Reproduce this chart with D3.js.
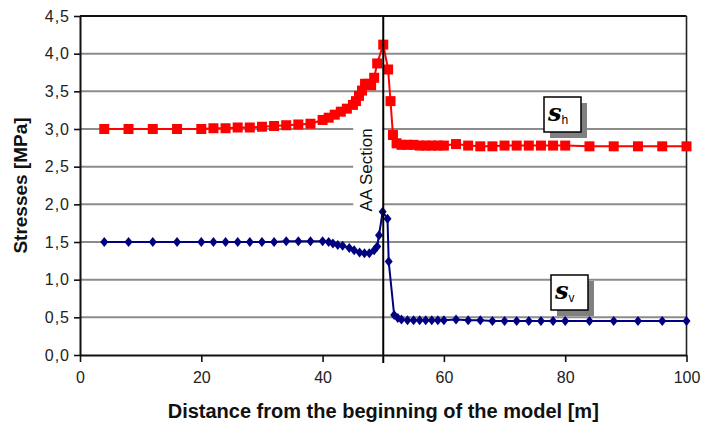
<!DOCTYPE html>
<html>
<head>
<meta charset="utf-8">
<script src="https://cdn.jsdelivr.net/npm/d3@7"></script>
<style>
  html, body { margin: 0; padding: 0; background: #fff; }
  svg { display: block; }
</style>
</head>
<body>
<svg id="chart" width="703" height="423"></svg>
<script>
// Horizontal stress (sigma h) along the model, MPa
const shDistance = [4, 8, 12, 16, 20, 22, 24, 26, 28, 30, 32, 34, 36, 38, 40, 41, 42, 43, 44, 45, 45.5, 46, 46.5, 47, 47.5, 48, 48.5, 49, 50, 50.8, 51.2, 51.6, 52.2, 53, 54, 55, 56, 57, 58, 59, 60, 62, 64, 66, 68, 70, 72, 74, 76, 78, 80, 84, 88, 92, 96, 100];
const shStress = [3.0, 3.0, 3.0, 3.0, 3.0, 3.01, 3.01, 3.02, 3.02, 3.03, 3.04, 3.05, 3.06, 3.07, 3.12, 3.15, 3.19, 3.23, 3.27, 3.32, 3.37, 3.44, 3.51, 3.60, 3.60, 3.58, 3.68, 3.87, 4.12, 3.79, 3.37, 2.92, 2.81, 2.79, 2.79, 2.79, 2.78, 2.78, 2.78, 2.78, 2.78, 2.80, 2.78, 2.77, 2.77, 2.78, 2.78, 2.78, 2.78, 2.78, 2.78, 2.77, 2.77, 2.77, 2.77, 2.77];

// Vertical stress (sigma v) along the model, MPa
const svDistance = [4, 8, 12, 16, 20, 22, 24, 26, 28, 30, 32, 34, 36, 38, 40, 41, 41.7, 42.5, 43.3, 44.4, 45.2, 46.1, 46.9, 47.7, 48.5, 49, 49.3, 49.9, 50.7, 50.9, 51.8, 52.4, 53, 54, 55, 56, 57, 58, 59, 60, 62, 64, 66, 68, 70, 72, 74, 76, 78, 80, 84, 88, 92, 96, 100];
const svStress = [1.50, 1.50, 1.50, 1.50, 1.50, 1.50, 1.50, 1.50, 1.50, 1.50, 1.50, 1.51, 1.51, 1.51, 1.51, 1.50, 1.48, 1.46, 1.45, 1.42, 1.39, 1.36, 1.35, 1.35, 1.39, 1.44, 1.59, 1.90, 1.81, 1.24, 0.53, 0.49, 0.47, 0.46, 0.46, 0.46, 0.46, 0.46, 0.46, 0.46, 0.47, 0.46, 0.46, 0.45, 0.45, 0.45, 0.45, 0.45, 0.45, 0.45, 0.45, 0.45, 0.45, 0.45, 0.45];

const xTicks = [0, 20, 40, 60, 80, 100];
const yTicks = [0, 0.5, 1.0, 1.5, 2.0, 2.5, 3.0, 3.5, 4.0, 4.5];
const sectionAt = 50;

const svg = d3.select("#chart");
const m = { left: 80, right: 16, top: 16, bottom: 68 };
const W = 703, H = 423;
const x = d3.scaleLinear().domain([0, 100]).range([m.left, W - m.right - 0.5]);
const y = d3.scaleLinear().domain([0, 4.5]).range([H - m.bottom, m.top]);
const fmt = v => d3.format(".1f")(v).replace(".", ",");
const sans = "Liberation Sans, Arial, sans-serif";

// gridlines
svg.append("g")
  .selectAll("line")
  .data(yTicks.filter(v => v > 0 && v < 4.5))
  .join("line")
  .attr("x1", x(0)).attr("x2", x(100))
  .attr("y1", d => y(d)).attr("y2", d => y(d))
  .attr("stroke", "#8c8c8c").attr("stroke-width", 2);

// section label with its white backing
const labelY = 170;
svg.append("rect")
  .attr("x", x(sectionAt) - 30).attr("y", labelY - 48)
  .attr("width", 29).attr("height", 96)
  .attr("fill", "#fff");
svg.append("text")
  .attr("transform", `translate(${x(sectionAt) - 11},${labelY}) rotate(-90)`)
  .attr("text-anchor", "middle")
  .attr("font-family", sans)
  .attr("font-size", 17)
  .attr("fill", "#111")
  .text("AA Section");

// plot frame: top and right
svg.append("line").attr("x1", x(0)).attr("x2", x(100)).attr("y1", y(4.5)).attr("y2", y(4.5))
  .attr("stroke", "#111").attr("stroke-width", 2);
svg.append("line").attr("x1", x(100)).attr("x2", x(100)).attr("y1", y(4.5)).attr("y2", y(0))
  .attr("stroke", "#222").attr("stroke-width", 1.6);

// series
const line = d3.line().x(d => x(d[0])).y(d => y(d[1]));
const shPts = d3.zip(shDistance, shStress);
const svPts = d3.zip(svDistance, svStress);

svg.append("path").datum(shPts).attr("d", line)
  .attr("fill", "none").attr("stroke", "#ff0000").attr("stroke-width", 2);
svg.append("g").selectAll("rect").data(shPts).join("rect")
  .attr("x", d => x(d[0]) - 5).attr("y", d => y(d[1]) - 5)
  .attr("width", 10).attr("height", 10)
  .attr("fill", "#ff0000");

svg.append("path").datum(svPts).attr("d", line)
  .attr("fill", "none").attr("stroke", "#000080").attr("stroke-width", 2);
svg.append("g").selectAll("path").data(svPts).join("path")
  .attr("d", d => `M${x(d[0])},${y(d[1]) - 5}L${x(d[0]) + 4},${y(d[1])}L${x(d[0])},${y(d[1]) + 5}L${x(d[0]) - 4},${y(d[1])}Z`)
  .attr("fill", "#000080");

// section line
svg.append("line")
  .attr("x1", x(sectionAt)).attr("x2", x(sectionAt))
  .attr("y1", y(4.5)).attr("y2", y(0) + 8)
  .attr("stroke", "#000").attr("stroke-width", 2);

// axes
const xAxis = svg.append("g")
  .attr("transform", `translate(0,${y(0)})`)
  .call(d3.axisBottom(x).tickValues(xTicks).tickSize(7).tickSizeOuter(0).tickFormat(d3.format("d")));
const yAxis = svg.append("g")
  .attr("transform", `translate(${x(0)},0)`)
  .call(d3.axisLeft(y).tickValues(yTicks).tickSize(6).tickSizeOuter(0).tickFormat(fmt));

[xAxis, yAxis].forEach(g => {
  g.select(".domain").attr("stroke", "#111").attr("stroke-width", 2);
  g.selectAll(".tick line").attr("stroke", "#111").attr("stroke-width", 1.6);
  g.selectAll(".tick text")
    .attr("font-family", sans)
    .attr("font-size", 16).attr("fill", "#222");
});
xAxis.selectAll(".tick text").attr("dy", "1.1em").attr("y", 10);
yAxis.selectAll(".tick text").attr("x", -10).attr("letter-spacing", 1);

// axis titles
svg.append("text")
  .attr("x", (x(0) + x(100)) / 2).attr("y", 418)
  .attr("text-anchor", "middle")
  .attr("font-family", sans)
  .attr("font-weight", "bold").attr("font-size", 20).attr("fill", "#111")
  .text("Distance from the beginning of the model [m]");
svg.append("text")
  .attr("transform", `translate(27,${(y(0) + y(4.5)) / 2}) rotate(-90)`)
  .attr("text-anchor", "middle")
  .attr("font-family", sans)
  .attr("font-weight", "bold").attr("font-size", 19).attr("fill", "#111")
  .text("Stresses [MPa]");

// series tags with drop shadow
function tag(cx, cy, sub) {
  const g = svg.append("g").attr("transform", `translate(${cx},${cy})`);
  g.append("rect").attr("x", 6).attr("y", 6).attr("width", 37).attr("height", 35).attr("fill", "#808080");
  g.append("rect").attr("x", 0).attr("y", 0).attr("width", 37).attr("height", 35)
    .attr("fill", "#fff").attr("stroke", "#000").attr("stroke-width", 1.5);
  const t = g.append("text").attr("x", 4).attr("y", 24).attr("fill", "#000");
  t.append("tspan").attr("font-family", "DejaVu Serif, serif").attr("font-weight", "bold")
    .attr("font-style", "italic").attr("font-size", 24).text("s");
  t.append("tspan").attr("font-family", sans)
    .attr("font-size", 12).attr("dy", 3).text(sub);
}
tag(544, 97, "h");
tag(551, 275, "v");
</script>
</body>
</html>
